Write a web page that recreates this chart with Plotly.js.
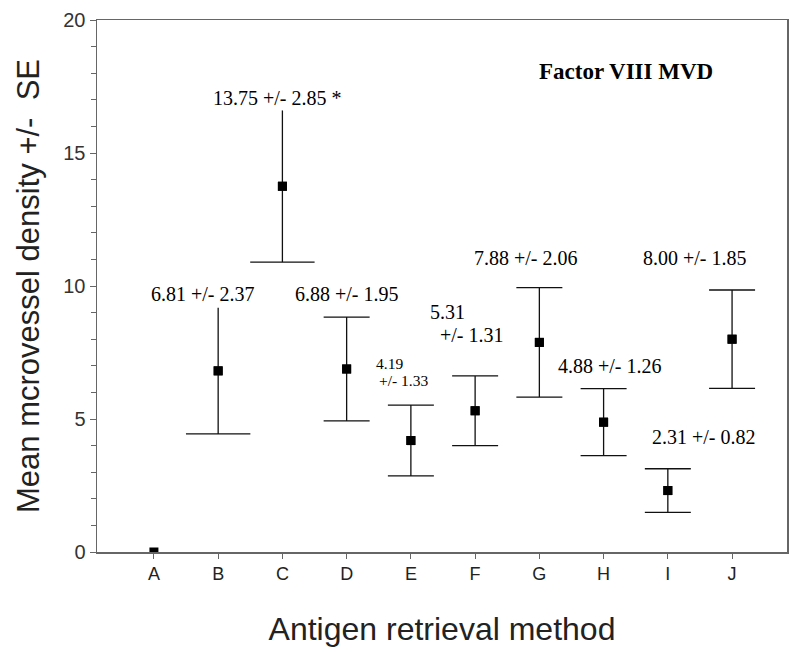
<!DOCTYPE html>
<html>
<head>
<meta charset="utf-8">
<script src="https://cdn.plot.ly/plotly-3.0.1.min.js"></script>
<style>html,body{margin:0;padding:0;background:#fff}#chart{width:800px;height:664px}</style>
</head>
<body>
<div id="chart"></div>
<script>
// ---- data ----
const categories = ['A', 'B', 'C', 'D', 'E', 'F', 'G', 'H', 'I', 'J'];
const meanMVD = [0, 6.81, 13.75, 6.88, 4.19, 5.31, 7.88, 4.88, 2.31, 8.00];
const seMVD = [null, 2.37, 2.85, 1.95, 1.33, 1.31, 2.06, 1.26, 0.82, 1.85];
const topCap = [false, false, false, true, true, true, true, true, true, true];
const significant = [false, false, true, false, false, false, false, false, false, false];
const chartLabel = 'Factor VIII MVD';
const xTitle = 'Antigen retrieval method';
const yTitle = 'Mean mcrovessel density +/-  SE';

const idx = categories.map((c, i) => i);
const withSE = idx.filter(i => seMVD[i] !== null);
const capped = withSE.filter(i => topCap[i]);
const uncapped = withSE.filter(i => !topCap[i]);
const pick = (arr, ids) => ids.map(i => arr[i]);

const ebColor = '#111';
const traces = [
  { // all means (first so the category order follows the data order)
    type: 'scatter', mode: 'markers',
    x: categories, y: meanMVD,
    marker: {symbol: 'square', size: 9, color: '#000'},
    hoverinfo: 'skip'
  },
  { // error bars with caps at both ends
    type: 'scatter', mode: 'markers',
    x: pick(categories, capped), y: pick(meanMVD, capped),
    marker: {symbol: 'square', size: 9, color: '#000'},
    error_y: {type: 'data', array: pick(seMVD, capped), visible: true, width: 23, thickness: 1.3, color: ebColor},
    hoverinfo: 'skip'
  },
  { // error bars with only a lower cap: plain whisker
    type: 'scatter', mode: 'markers',
    x: pick(categories, uncapped), y: pick(meanMVD, uncapped),
    marker: {symbol: 'square', size: 9, color: '#000'},
    error_y: {type: 'data', array: pick(seMVD, uncapped), visible: true, width: 0, thickness: 1.3, color: ebColor},
    hoverinfo: 'skip'
  },
  { // lower caps for those
    type: 'scatter', mode: 'markers',
    x: pick(categories, uncapped), y: uncapped.map(i => meanMVD[i] - seMVD[i]),
    marker: {symbol: 'line-ew', size: 46, color: ebColor, line: {width: 1.3, color: ebColor}},
    hoverinfo: 'skip'
  }
];

// label placement (layout only). Two-line labels get one position per line.
const labelPos = {
  1: {x: 0.77, y: 9.69},
  2: {x: 1.925, y: 17.08},
  3: {x: 3.0, y: 9.70},
  4: {lines: [{x: 3.423, y: 7.10}, {x: 3.47, y: 6.43}], size: 15.5},
  5: {lines: [{x: 4.263, y: 9.03}, {x: 4.419, y: 8.16}]},
  6: {x: 5.79, y: 11.05},
  7: {x: 7.10, y: 7.00},
  8: {x: 8.57, y: 4.32},
  9: {x: 8.42, y: 11.05}
};
const serif = 'Liberation Serif, Times New Roman, serif';
const annotations = [];
withSE.forEach(i => {
  const p = labelPos[i];
  const m = meanMVD[i].toFixed(2), s = seMVD[i].toFixed(2);
  const font = {family: serif, size: p.size || 20, color: '#000'};
  if (p.lines) {
    [m, '+/- ' + s].forEach((t, k) => annotations.push({
      xref: 'x', yref: 'y', x: p.lines[k].x, y: p.lines[k].y, text: t, showarrow: false,
      xanchor: 'left', yanchor: 'middle', font: font
    }));
  } else {
    annotations.push({
      xref: 'x', yref: 'y', x: p.x, y: p.y,
      text: m + ' +/- ' + s + (significant[i] ? ' *' : ''), showarrow: false,
      xanchor: 'center', yanchor: 'middle', font: font
    });
  }
});
annotations.push({
  xref: 'x', yref: 'y', x: 7.35, y: 18.06, text: '<b>' + chartLabel + '</b>', showarrow: false,
  xanchor: 'center', yanchor: 'middle', font: {family: serif, size: 23, color: '#000'}
});

const sans = 'Liberation Sans, Arial, sans-serif';
const layout = {
  width: 800, height: 664,
  margin: {l: 97, r: 13, t: 20, b: 112},
  paper_bgcolor: '#fff', plot_bgcolor: '#fff',
  showlegend: false,
  xaxis: {
    type: 'category', categoryorder: 'array', categoryarray: categories,
    range: [-0.886, 9.855],
    showgrid: false, zeroline: false,
    showline: true, linecolor: '#666', linewidth: 1.5, mirror: true,
    ticks: 'outside', ticklen: 5, tickwidth: 1, tickcolor: '#666',
    tickfont: {family: sans, size: 18, color: '#222'},
    title: {text: xTitle, font: {family: sans, size: 32, color: '#222'}, standoff: 34}
  },
  yaxis: {
    range: [0, 20], dtick: 5,
    showgrid: false, zeroline: false,
    showline: true, linecolor: '#666', linewidth: 1.5, mirror: true,
    ticks: 'outside', ticklen: 6, tickwidth: 1, tickcolor: '#666',
    minor: {dtick: 1, ticks: 'outside', ticklen: 5, tickcolor: '#666', showgrid: false},
    tickfont: {family: sans, size: 20, color: '#333'},
    title: {text: yTitle, font: {family: sans, size: 31, color: '#222'}, standoff: 14}
  },
  annotations: annotations
};

Plotly.newPlot('chart', traces, layout, {displayModeBar: false, staticPlot: true});
</script>
</body>
</html>
